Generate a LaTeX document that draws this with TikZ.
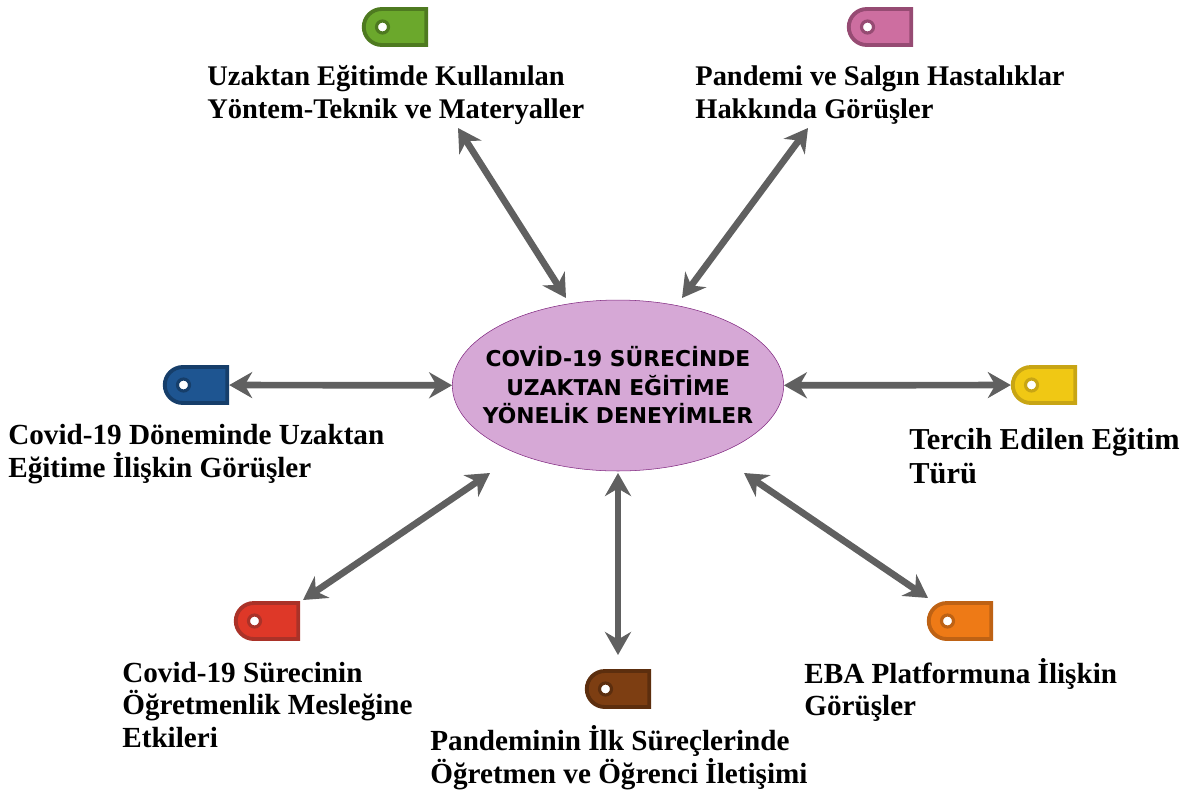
\documentclass[tikz,border=0pt]{standalone}
\usepackage{fontspec}
\setmainfont{Liberation Serif}
\newfontfamily\hubfont{DejaVu Sans}
\usetikzlibrary{shapes.geometric,shapes.misc,arrows.meta}
\definecolor{hubfill}{RGB}{214,168,214}
\definecolor{hubline}{RGB}{128,40,128}
\definecolor{linkgray}{RGB}{96,96,96}
\tikzset{
    hub/.style={ellipse, fill=hubfill, draw=hubline, line width=0.3pt, minimum width=6.6cm, minimum height=3.42cm, inner ysep=0pt, inner xsep=-0.36cm, align=center, font=\hubfont\bfseries\fontsize{12.4}{16.2}\selectfont},
    tagbox/.style={rounded rectangle, rounded rectangle right arc=none, minimum width=1.25cm, minimum height=0.72cm, inner sep=0pt, line width=2.2pt},
    taghole/.style={circle, fill=white, minimum size=0.24cm, inner sep=0pt, line width=1.8pt},
    label/.style={anchor=west, align=left, inner sep=0pt, font=\bfseries\fontsize{#1}{18.7}\selectfont},
    label/.default=16.6,
    link/.style={draw=linkgray, line width=3.8pt, {Stealth[length=0.46cm,width=0.52cm]}-{Stealth[length=0.46cm,width=0.52cm]}}
}
\begin{document}
\begin{tikzpicture}[x=0.02cm, y=-0.02cm]
    \useasboundingbox (0,0) rectangle (1196,792);
    \node[hub] (cv) at (618,385.5) {COVİD-19 SÜRECİNDE\\UZAKTAN EĞİTİME\\YÖNELİK DENEYİMLER};
    \foreach \name/\x/\y/\tagfill/\tagline in {
        ta/395/27/{107,168,44}/{78,122,32},
        tb/880/27/{205,110,160}/{150,75,115},
        tc/196/385/{30,85,145}/{22,62,106},
        td/1044/385/{240,200,20}/{200,165,20},
        te/267/621/{222,56,40}/{170,50,40},
        tf/618/689/{125,62,18}/{92,46,14},
        tg/960/621/{238,122,22}/{190,98,20}} {
        \definecolor{tagf}{RGB}{\tagfill}
        \definecolor{tagl}{RGB}{\tagline}
        \node[tagbox, fill=tagf, draw=tagl] (\name) at (\x,\y) {};
        \node[taghole, draw=tagl] (\name h) at ([xshift=-0.25cm]\name.center) {};
    }
    \node[label=16.2] (la) at (207,95) {Uzaktan Eğitimde Kullanılan\\Yöntem-Teknik ve Materyaller};
    \node[label=16.2] (lb) at (695,95) {Pandemi ve Salgın Hastalıklar\\Hakkında Görüşler};
    \node[label] (lc) at (8,454) {Covid-19 Döneminde Uzaktan\\Eğitime İlişkin Görüşler};
    \node[label=17.3, font=\bfseries\fontsize{17.3}{19.8}\selectfont] (ld) at (909,456) {Tercih Edilen Eğitim\\Türü};
    \node[label] (le) at (122,705) {Covid-19 Sürecinin\\Öğretmenlik Mesleğine\\Etkileri};
    \node[label] (lf) at (430,758) {Pandeminin İlk Süreçlerinde\\Öğretmen ve Öğrenci İletişimi};
    \node[label] (lg) at (804,690) {EBA Platformuna İlişkin\\Görüşler};
    \coordinate (p1) at (458,128);
    \coordinate (q1) at (566,298);
    \coordinate (p2) at (808,128);
    \coordinate (q2) at (682,298);
    \coordinate (p3) at (303,600);
    \coordinate (q3) at (490,473);
    \coordinate (p4) at (618,655);
    \coordinate (q4) at (618,473);
    \coordinate (p5) at (928,598);
    \coordinate (q5) at (744,473);
    \foreach \from/\to in {p1/q1, p2/q2, p3/q3, p4/q4, p5/q5, tc/cv, td/cv}
        \draw[link] (\from) -- (\to);
\end{tikzpicture}
\end{document}
